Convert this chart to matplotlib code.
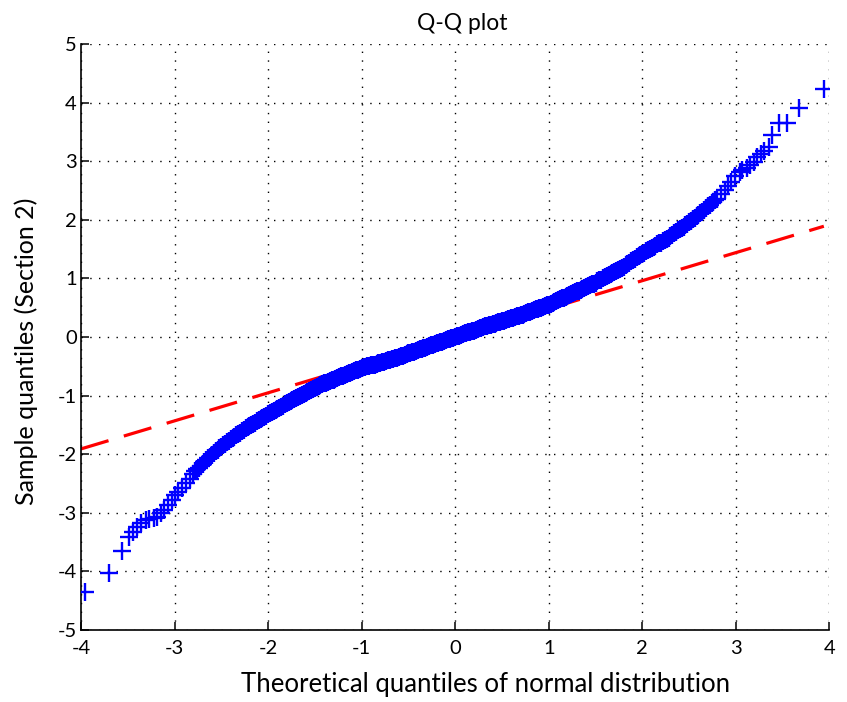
import matplotlib
matplotlib.use("Agg")
import matplotlib.pyplot as plt

plt.rcParams['font.family'] = ['Lato', 'DejaVu Sans']
plt.rcParams['axes.unicode_minus'] = False

# sorted sample quantiles against normal quantiles, split into lower tail,
# dense body and upper tail
low_x = [-3.96, -3.70, -3.56, -3.49, -3.44, -3.40, -3.36, -3.31, -3.27, -3.22,
         -3.19, -3.14, -3.11, -3.07, -3.03, -2.99, -2.96, -2.92, -2.88, -2.84]
low_y = [-4.35, -4.03, -3.66, -3.41, -3.32, -3.24, -3.17, -3.13, -3.11, -3.09,
         -3.07, -3.01, -2.95, -2.87, -2.78, -2.70, -2.64, -2.58, -2.50, -2.42]

body_x = [-2.80, -2.78, -2.76, -2.74, -2.72, -2.70, -2.68, -2.66, -2.64, -2.62,
          -2.60, -2.58, -2.56, -2.54, -2.52, -2.50, -2.48, -2.46, -2.44, -2.42,
          -2.40, -2.38, -2.36, -2.34, -2.32, -2.30, -2.28, -2.26, -2.24, -2.22,
          -2.20, -2.18, -2.16, -2.14, -2.12, -2.10, -2.08, -2.06, -2.04, -2.02,
          -2.00, -1.98, -1.96, -1.94, -1.92, -1.90, -1.88, -1.86, -1.84, -1.82,
          -1.80, -1.78, -1.76, -1.74, -1.72, -1.70, -1.68, -1.66, -1.64, -1.62,
          -1.60, -1.58, -1.56, -1.54, -1.52, -1.50, -1.48, -1.46, -1.44, -1.42,
          -1.40, -1.38, -1.36, -1.34, -1.32, -1.30, -1.28, -1.26, -1.24, -1.22,
          -1.20, -1.18, -1.16, -1.14, -1.12, -1.10, -1.08, -1.06, -1.04, -1.02,
          -1.00, -0.98, -0.96, -0.94, -0.92, -0.90, -0.88, -0.86, -0.84, -0.82,
          -0.80, -0.78, -0.76, -0.74, -0.72, -0.70, -0.68, -0.66, -0.64, -0.62,
          -0.60, -0.58, -0.56, -0.54, -0.52, -0.50, -0.48, -0.46, -0.44, -0.42,
          -0.40, -0.38, -0.36, -0.34, -0.32, -0.30, -0.28, -0.26, -0.24, -0.22,
          -0.20, -0.18, -0.16, -0.14, -0.12, -0.10, -0.08, -0.06, -0.04, -0.02,
          0.00, 0.02, 0.04, 0.06, 0.08, 0.10, 0.12, 0.14, 0.16, 0.18,
          0.20, 0.22, 0.24, 0.26, 0.28, 0.30, 0.32, 0.34, 0.36, 0.38,
          0.40, 0.42, 0.44, 0.46, 0.48, 0.50, 0.52, 0.54, 0.56, 0.58,
          0.60, 0.62, 0.64, 0.66, 0.68, 0.70, 0.72, 0.74, 0.76, 0.78,
          0.80, 0.82, 0.84, 0.86, 0.88, 0.90, 0.92, 0.94, 0.96, 0.98,
          1.00, 1.02, 1.04, 1.06, 1.08, 1.10, 1.12, 1.14, 1.16, 1.18,
          1.20, 1.22, 1.24, 1.26, 1.28, 1.30, 1.32, 1.34, 1.36, 1.38,
          1.40, 1.42, 1.44, 1.46, 1.48, 1.50, 1.52, 1.54, 1.56, 1.58,
          1.60, 1.62, 1.64, 1.66, 1.68, 1.70, 1.72, 1.74, 1.76, 1.78,
          1.80, 1.82, 1.84, 1.86, 1.88, 1.90, 1.92, 1.94, 1.96, 1.98,
          2.00, 2.02, 2.04, 2.06, 2.08, 2.10, 2.12, 2.14, 2.16, 2.18,
          2.20, 2.22, 2.24, 2.26, 2.28, 2.30, 2.32, 2.34, 2.36, 2.38,
          2.40, 2.42, 2.44, 2.46, 2.48, 2.50, 2.52, 2.54, 2.56, 2.58,
          2.60, 2.62, 2.64, 2.66, 2.68, 2.70, 2.72, 2.74, 2.76, 2.78,
          2.80]
body_y = [-2.33, -2.29, -2.26, -2.23, -2.20, -2.17, -2.14, -2.10, -2.07, -2.04,
          -2.01, -1.98, -1.95, -1.93, -1.90, -1.87, -1.85, -1.82, -1.79, -1.77,
          -1.74, -1.72, -1.70, -1.67, -1.65, -1.63, -1.61, -1.58, -1.56, -1.54,
          -1.52, -1.50, -1.48, -1.46, -1.44, -1.42, -1.40, -1.38, -1.36, -1.34,
          -1.32, -1.30, -1.28, -1.27, -1.25, -1.23, -1.21, -1.19, -1.17, -1.15,
          -1.13, -1.11, -1.09, -1.08, -1.06, -1.04, -1.02, -1.01, -0.99, -0.97,
          -0.95, -0.94, -0.92, -0.90, -0.88, -0.87, -0.85, -0.84, -0.82, -0.81,
          -0.79, -0.78, -0.77, -0.75, -0.74, -0.73, -0.71, -0.70, -0.68, -0.67,
          -0.66, -0.65, -0.63, -0.62, -0.61, -0.60, -0.58, -0.57, -0.56, -0.55,
          -0.53, -0.52, -0.51, -0.50, -0.49, -0.48, -0.47, -0.47, -0.46, -0.45,
          -0.44, -0.43, -0.42, -0.41, -0.40, -0.39, -0.38, -0.37, -0.36, -0.35,
          -0.34, -0.33, -0.32, -0.31, -0.29, -0.28, -0.27, -0.26, -0.25, -0.24,
          -0.23, -0.21, -0.20, -0.19, -0.18, -0.17, -0.16, -0.14, -0.13, -0.12,
          -0.11, -0.10, -0.09, -0.08, -0.07, -0.05, -0.04, -0.03, -0.02, -0.01,
          0.00, 0.01, 0.02, 0.03, 0.05, 0.06, 0.07, 0.08, 0.09, 0.10,
          0.11, 0.12, 0.14, 0.15, 0.16, 0.17, 0.18, 0.19, 0.20, 0.21,
          0.22, 0.23, 0.24, 0.25, 0.26, 0.27, 0.28, 0.29, 0.30, 0.31,
          0.32, 0.33, 0.34, 0.35, 0.36, 0.37, 0.38, 0.40, 0.41, 0.42,
          0.43, 0.45, 0.46, 0.47, 0.48, 0.49, 0.50, 0.52, 0.53, 0.54,
          0.55, 0.57, 0.58, 0.60, 0.61, 0.63, 0.64, 0.66, 0.67, 0.69,
          0.70, 0.72, 0.73, 0.75, 0.76, 0.78, 0.79, 0.81, 0.82, 0.83,
          0.85, 0.87, 0.88, 0.90, 0.91, 0.93, 0.95, 0.97, 0.98, 1.00,
          1.02, 1.04, 1.05, 1.07, 1.09, 1.11, 1.12, 1.14, 1.16, 1.18,
          1.20, 1.23, 1.25, 1.27, 1.29, 1.31, 1.33, 1.36, 1.38, 1.40,
          1.42, 1.44, 1.46, 1.48, 1.50, 1.52, 1.54, 1.56, 1.58, 1.60,
          1.61, 1.63, 1.65, 1.67, 1.69, 1.72, 1.74, 1.77, 1.79, 1.82,
          1.84, 1.86, 1.88, 1.91, 1.93, 1.96, 1.98, 2.01, 2.03, 2.06,
          2.09, 2.12, 2.14, 2.17, 2.20, 2.23, 2.25, 2.28, 2.30, 2.33,
          2.36]

high_x = [2.84, 2.88, 2.92, 2.95, 2.99, 3.04, 3.07, 3.12, 3.15, 3.19,
          3.23, 3.27, 3.30, 3.35, 3.39, 3.46, 3.55, 3.67, 3.94]
high_y = [2.44, 2.51, 2.58, 2.65, 2.74, 2.81, 2.85, 2.89, 2.94, 2.98,
          3.07, 3.12, 3.17, 3.25, 3.45, 3.66, 3.66, 3.90, 4.23]

# reference line through the quartiles
ref_x = [-4.00, 3.94]
ref_y = [-1.91, 1.89]

x_ticks = [-4, -3, -2, -1, 0, 1, 2, 3, 4]
x_tick_labels = ['-4', '-3', '-2', '-1', '0', '1', '2', '3', '4']
y_ticks = [-5, -4, -3, -2, -1, 0, 1, 2, 3, 4, 5]
y_tick_labels = ['-5', '-4', '-3', '-2', '-1', '0', '1', '2', '3', '4', '5']

theo_q = low_x + body_x + high_x
sample_q = low_y + body_y + high_y

fig = plt.figure(figsize=(8.47, 7.02), dpi=100)
ax = fig.add_axes([0.0956, 0.1026, 0.8837, 0.8347])

# dashed fit line sits under the markers
ref, = ax.plot(ref_x, ref_y, color=(1, 0, 0), linewidth=2.3, zorder=2)
ref.set_dashes((9, 5))
ax.plot(theo_q, sample_q, linestyle='none', marker='+', markersize=12.5,
        markeredgewidth=1.7, color=(0, 0, 1), zorder=3)

ax.set_xlim(-4, 4)
ax.set_ylim(-5, 5)
ax.set_xticks(x_ticks)
ax.set_xticklabels(x_tick_labels)
ax.set_yticks(y_ticks)
ax.set_yticklabels(y_tick_labels)

ax.spines['top'].set_visible(False)
ax.spines['right'].set_visible(False)
for side in ('left', 'bottom'):
    ax.spines[side].set_linewidth(1.2)
ax.tick_params(direction='in', length=6, width=1.1, labelsize=14.5)
ax.tick_params(axis='x', pad=7)
ax.tick_params(axis='y', pad=3)

ax.grid(True, color='black', linestyle=(0, (1, 5.3)), linewidth=1.0, zorder=1)
ax.set_axisbelow(True)

ax.set_title('Q-Q plot', fontsize=16.5, x=0.51, pad=10)
ax.set_xlabel('Theoretical quantiles of normal distribution', fontsize=18.5)
ax.set_ylabel('Sample quantiles (Section 2)', fontsize=18)
ax.xaxis.set_label_coords(0.54, -0.072)
ax.yaxis.set_label_coords(-0.057, 0.476)

fig.savefig('out.png', dpi=100)
